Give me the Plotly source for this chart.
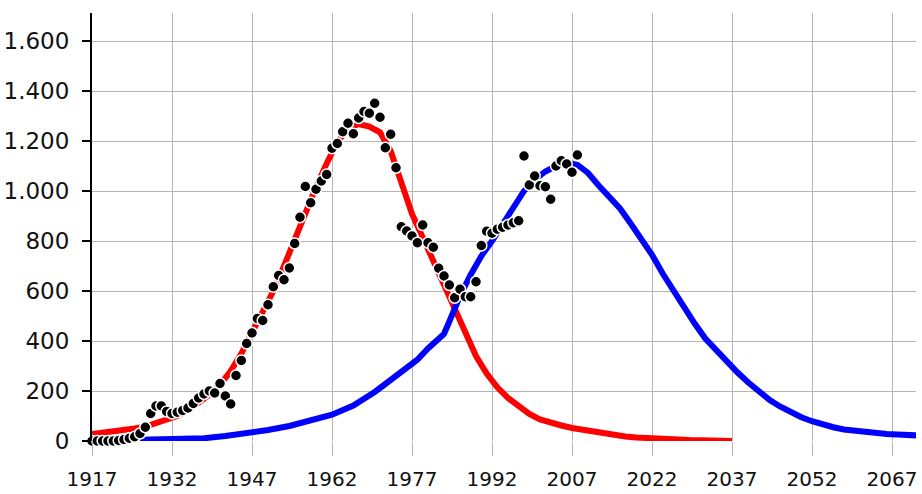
import plotly.graph_objects as go

# Observed yearly production (black dots)
obs_years = list(range(1917, 2009))
obs_values = [
    0, 0, 0, 0, 0, 2, 6, 11, 17, 30,            # 1917-1926
    55, 110, 140, 140, 118, 110, 115, 122, 132, 150,  # 1927-1936
    172, 188, 200, 192, 230, 180, 148, 262, 322, 390,  # 1937-1946
    432, 490, 482, 545, 617, 662, 645, 692, 790, 895,  # 1947-1956
    1018, 953, 1007, 1040, 1066, 1171, 1190, 1237, 1271, 1229,  # 1957-1966
    1292, 1318, 1311, 1351, 1295, 1173, 1227, 1093, 857, 840,  # 1967-1976
    820, 793, 864, 793, 775, 691, 660, 624, 573, 607,  # 1977-1986
    577, 577, 637, 782, 839, 831, 847, 855, 864, 873,  # 1987-1996
    881, 1140, 1024, 1060, 1021, 1017, 967, 1100, 1121, 1108,  # 1997-2006
    1075, 1144,                                  # 2007-2008
]

# First production cycle (red curve)
red_years = [
    1917, 1919, 1921, 1923, 1925, 1927, 1929, 1931, 1933, 1935,
    1937, 1939, 1941, 1943, 1945, 1947, 1949, 1951, 1953, 1955,
    1957, 1959, 1961, 1963, 1965, 1967, 1969, 1971, 1973, 1974,
    1975, 1976, 1977, 1979, 1981, 1983, 1985, 1987, 1989, 1991,
    1993, 1995, 1997, 1999, 2001, 2003, 2005, 2007, 2009, 2011,
    2013, 2015, 2017, 2019, 2021, 2023, 2025, 2027, 2029, 2031,
    2033, 2035, 2037,
]
red_values = [
    28, 32, 38, 44, 50, 58, 70, 82, 100, 122,
    150, 185, 225, 280, 350, 430, 510, 600, 700, 810,
    915, 1015, 1110, 1195, 1250, 1268, 1258, 1235, 1160, 1095,
    1025, 965, 908, 815, 718, 622, 525, 430, 340, 270,
    215, 172, 138, 108, 86, 72, 62, 52, 44, 36,
    29, 23, 18, 14, 11, 9, 7, 6, 4, 3,
    2, 1, 0,
]

# Second production cycle (blue curve)
blue_years = [
    1926, 1930, 1934, 1938, 1942, 1946, 1950, 1954, 1958, 1962,
    1966, 1968, 1970, 1972, 1974, 1976, 1978, 1980, 1982, 1983,
    1984, 1986, 1988, 1990, 1992, 1994, 1996, 1998, 2000, 2002,
    2004, 2006, 2008, 2010, 2012, 2014, 2016, 2018, 2020, 2022,
    2024, 2026, 2028, 2030, 2032, 2034, 2036, 2038, 2040, 2042,
    2044, 2046, 2048, 2050, 2052, 2054, 2056, 2058, 2060, 2062,
    2064, 2066, 2068, 2070, 2072,
]
blue_values = [
    5, 5, 7, 11, 20, 30, 44, 60, 80, 105,
    142, 166, 196, 228, 258, 288, 325, 370, 405, 428,
    478, 580, 665, 740, 800, 865, 937, 1000, 1045, 1078,
    1100, 1113, 1105, 1072, 1022, 975, 930, 870, 810, 745,
    670, 600, 535, 470, 410, 362, 318, 275, 235, 198,
    165, 138, 114, 95, 79, 65, 55, 46, 40, 35,
    31, 28, 26, 24, 22,
]

x_ticks = [1917, 1932, 1947, 1962, 1977, 1992, 2007, 2022, 2037, 2052, 2067]
y_ticks = [0, 200, 400, 600, 800, 1000, 1200, 1400, 1600]
y_tick_labels = ["0", "200", "400", "600", "800", "1.000", "1.200", "1.400", "1.600"]

FONT = "DejaVu Sans, Verdana, sans-serif"
GRID = "#b4b4b4"
TEXT = "#111111"

fig = go.Figure()
fig.add_trace(go.Scatter(
    x=red_years, y=red_values, mode="lines",
    line=dict(color="#ff0000", width=6),
    cliponaxis=False, showlegend=False,
))
fig.add_trace(go.Scatter(
    x=blue_years, y=blue_values, mode="lines",
    line=dict(color="#0000ff", width=6),
    cliponaxis=False, showlegend=False,
))
fig.add_trace(go.Scatter(
    x=obs_years, y=obs_values, mode="markers",
    marker=dict(color="black", size=11, line=dict(color="white", width=1.5)),
    cliponaxis=False, showlegend=False,
))

fig.update_layout(
    width=922, height=494,
    margin=dict(l=92, r=6, t=13, b=53),
    paper_bgcolor="white", plot_bgcolor="white",
    font=dict(family=FONT, color=TEXT),
    xaxis=dict(
        range=[1917, 2071.5],
        tickvals=x_ticks,
        ticktext=[str(v) for v in x_ticks],
        showgrid=True, gridcolor=GRID, gridwidth=1,
        ticks="outside", ticklen=14, tickwidth=1, tickcolor=GRID,
        showline=False, zeroline=False, automargin=False,
        tickfont=dict(size=20, family=FONT, color=TEXT),
        ticklabelstandoff=6,
    ),
    yaxis=dict(
        range=[0, 1712],
        tickvals=y_ticks,
        ticktext=y_tick_labels,
        showgrid=True, gridcolor=GRID, gridwidth=1,
        ticks="outside", ticklen=8, tickwidth=2, tickcolor="black",
        showline=True, linecolor="black", linewidth=2,
        zeroline=False, automargin=False,
        tickfont=dict(size=23, family=FONT, color=TEXT),
        ticklabelstandoff=8,
    ),
)

fig.write_html("out.html")
